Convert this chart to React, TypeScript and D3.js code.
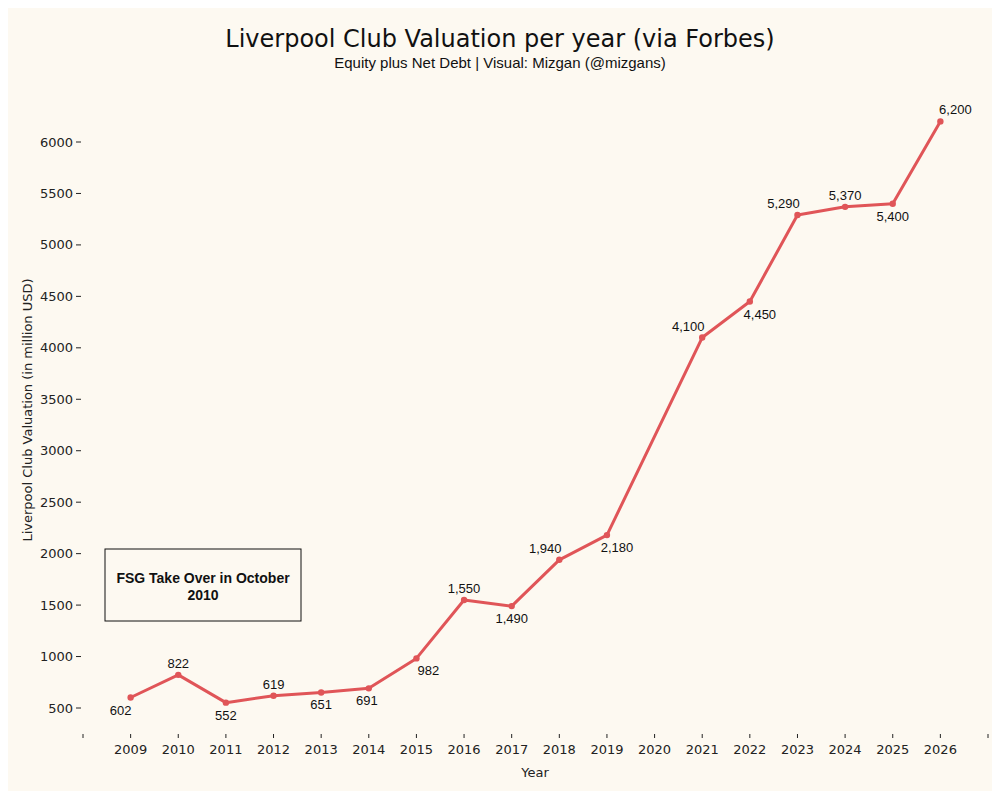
import React from "react";
import * as d3 from "d3";

const years = [2009, 2010, 2011, 2012, 2013, 2014, 2015, 2016, 2017, 2018, 2019, 2021, 2022, 2023, 2024, 2025, 2026];
const values = [602, 822, 552, 619, 651, 691, 982, 1550, 1490, 1940, 2180, 4100, 4450, 5290, 5370, 5400, 6200];
// label placement: dx, dy offsets (in px) relative to point
const labelDx = [-10, 0, 0, 0, 0, -2, 12, 0, 0, -14, 10, -14, 10, -14, 0, 0, 15];
const labelDy = [17, -7, 17, -7, 17, 17, 17, -7, 17, -7, 17, -7, 17, -7, -7, 17, -7];
const xTicks = d3.range(2008, 2028);
const yTicks = [500, 1000, 1500, 2000, 2500, 3000, 3500, 4000, 4500, 5000, 5500, 6000];

export default function App() {
  const W = 999, H = 799;
  const x = d3.scaleLinear().domain([2008, 2027]).range([83, 988]);
  const y = d3.scaleLinear().domain([500, 6000]).range([708, 142]);
  const line = d3.line<number>().x((_, i) => x(years[i])).y((d) => y(d));
  const axisFont = "DejaVu Sans, sans-serif";
  return (
    <svg width={W} height={H} style={{ position: "absolute", left: 0, top: 0 }}>
      <rect x={8} y={8} width={984} height={783} fill="#fdf9f1" />
      <text x={500} y={47} textAnchor="middle" fontFamily={axisFont} fontSize={24} fill="#111">
        Liverpool Club Valuation per year (via Forbes)
      </text>
      <text x={500} y={68} textAnchor="middle" fontFamily="Liberation Sans, Arial, sans-serif" fontSize={15} fill="#111">
        Equity plus Net Debt | Visual: Mizgan (@mizgans)
      </text>
      {yTicks.map((t) => (
        <g key={t}>
          <line x1={76} x2={81} y1={y(t)} y2={y(t)} stroke="#222" />
          <text x={73} y={y(t) + 4.5} textAnchor="end" fontFamily={axisFont} fontSize={13} fill="#222">{t}</text>
        </g>
      ))}
      {xTicks.map((t) => (
        <g key={t}>
          <line x1={x(t)} x2={x(t)} y1={734} y2={738} stroke="#222" />
          {t >= 2009 && t <= 2026 && (
            <text x={x(t)} y={754} textAnchor="middle" fontFamily={axisFont} fontSize={13} fill="#222">{t}</text>
          )}
        </g>
      ))}
      <text x={535} y={777} textAnchor="middle" fontFamily={axisFont} fontSize={13} fill="#222">Year</text>
      <text transform="translate(32,410) rotate(-90)" textAnchor="middle" fontFamily={axisFont} fontSize={13} fill="#222">
        Liverpool Club Valuation (in million USD)
      </text>
      <path d={line(values) || ""} fill="none" stroke="#e05558" strokeWidth={3} strokeLinejoin="round" />
      {values.map((v, i) => (
        <g key={i}>
          <circle cx={x(years[i])} cy={y(v)} r={3.2} fill="#e05558" />
          <text x={x(years[i]) + labelDx[i]} y={y(v) + labelDy[i]} textAnchor="middle"
            fontFamily="Liberation Sans, Arial, sans-serif" fontSize={13} fill="#111">
            {d3.format(",")(v)}
          </text>
        </g>
      ))}
      <rect x={105} y={549} width={196} height={72} fill="none" stroke="#111" strokeWidth={1} />
      <text x={203} y={583} textAnchor="middle" fontFamily="Liberation Sans, Arial, sans-serif" fontSize={14} fontWeight="bold" fill="#111">
        FSG Take Over in October
      </text>
      <text x={203} y={600} textAnchor="middle" fontFamily="Liberation Sans, Arial, sans-serif" fontSize={14} fontWeight="bold" fill="#111">
        2010
      </text>
    </svg>
  );
}
